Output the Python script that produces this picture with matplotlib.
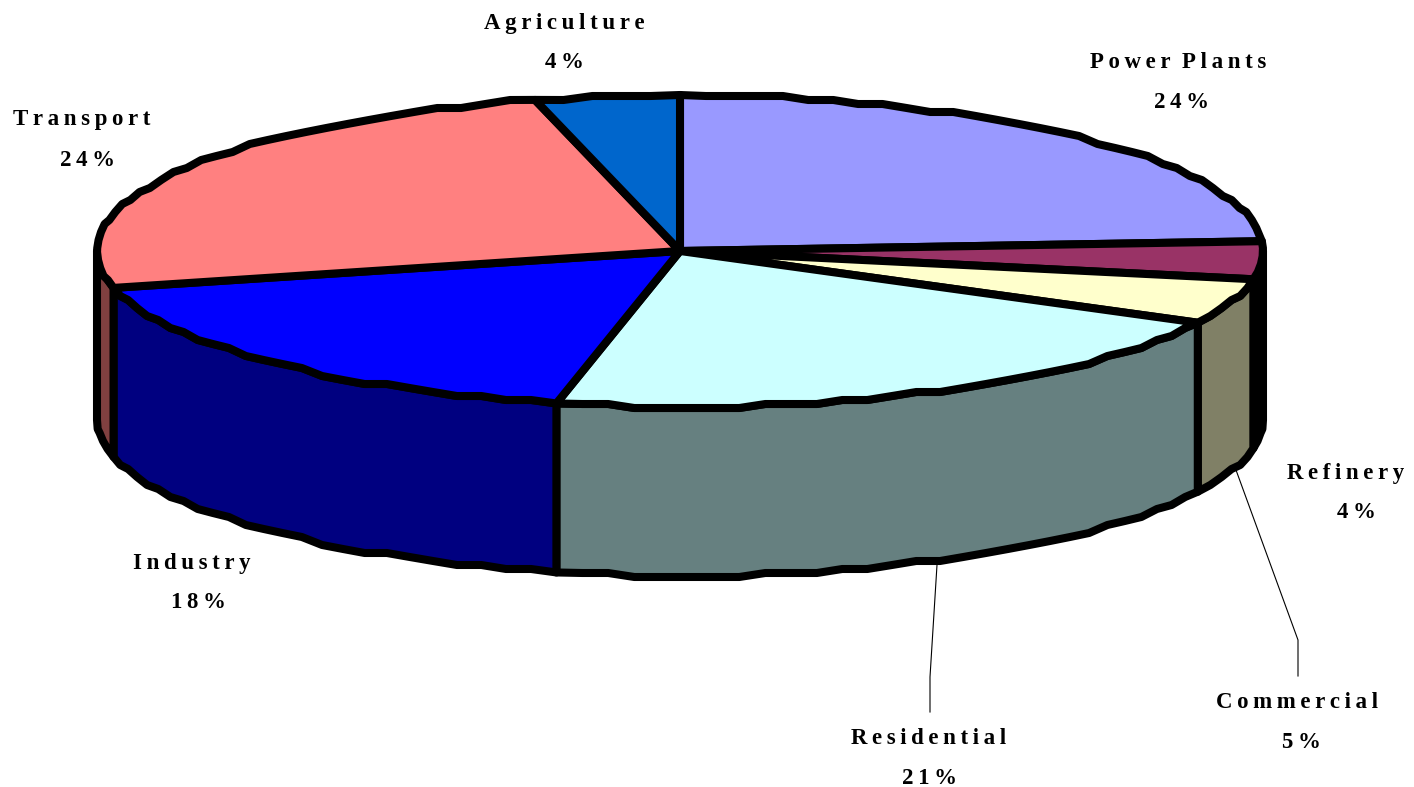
import numpy as np
import matplotlib
matplotlib.use('Agg')
import matplotlib.pyplot as plt
from matplotlib.patches import Polygon

# values (slice sizes), clockwise from the top
categories = ['Power Plants', 'Refinery', 'Commercial', 'Residential', 'Industry', 'Transport', 'Agriculture']
values = [24.0, 3.9, 4.7, 20.8, 17.8, 24.8, 4.0]
pct_labels = ['24%', '4%', '5%', '21%', '18%', '24%', '4%']
top_colors = ['#9999FF', '#993366', '#FFFFCC', '#CCFFFF', '#0000FF', '#FF8080', '#0066CC']
side_colors = ['#4D4D80', '#000000', '#808066', '#668080', '#000080', '#804040', '#003366']

# layout in pixels
cx, cy = 680, 251
rx, ry = 583, 156
depth = 169
lw = 5.8
label_pos = {
    'Power Plants': (1178, 63, 1182, 102),
    'Refinery': (1346, 473, 1356, 512),
    'Commercial': (1297, 703, 1301, 742),
    'Residential': (929, 739, 930, 778),
    'Industry': (192, 563, 198, 602),
    'Transport': (82, 119, 87, 160),
    'Agriculture': (564, 23, 564, 62),
}
leaders = [
    ([1236, 1298, 1298], [470, 640, 676]),
    ([937, 930, 930], [565, 677, 712]),
]


def rim(a0, a1, dy=0):
    # coarse outline, the y is snapped to get the stepped edge of the original
    n = max(2, int((a1 - a0) / 2.5) + 1)
    a = np.radians(np.linspace(a0, a1, n))
    x = cx + rx * np.sin(a)
    y = cy - ry * np.cos(a)
    y[1:-1] = np.round(y[1:-1] / 4) * 4
    return np.column_stack([x, y + dy])


def spaced(s):
    # the labels have wide letter spacing
    return '\u2002'.join('\u2009'.join(w) for w in s.split(' '))


fig = plt.figure(figsize=(14.14, 7.87), dpi=100)
ax = fig.add_axes([0, 0, 1, 1])
ax.set_xlim(0, 1414)
ax.set_ylim(787, 0)
ax.axis('off')

edges = np.concatenate([[0], np.cumsum(values)]) * 360 / sum(values)

# walls of the slices that face the viewer
for i in range(len(values)):
    a0, a1 = max(edges[i], 90), min(edges[i + 1], 270)
    if a1 <= a0:
        continue
    top = rim(a0, a1)
    bottom = rim(a0, a1, depth)[::-1]
    ax.add_patch(Polygon(np.vstack([top, bottom]), closed=True, facecolor=side_colors[i],
                         edgecolor='black', linewidth=lw, joinstyle='round', zorder=2))

# lid
for i in range(len(values)):
    pts = np.vstack([[[cx, cy]], rim(edges[i], edges[i + 1])])
    ax.add_patch(Polygon(pts, closed=True, facecolor=top_colors[i], edgecolor='black',
                         linewidth=lw, joinstyle='round', zorder=3))

for xs, ys in leaders:
    ax.plot(xs, ys, color='black', lw=0.8, zorder=1)

for name, pct in zip(categories, pct_labels):
    x1, y1, x2, y2 = label_pos[name]
    ax.text(x1, y1, spaced(name), ha='center', va='center', fontsize=16.5, fontweight='bold',
            family=['Liberation Serif', 'DejaVu Serif'])
    ax.text(x2, y2, spaced(pct), ha='center', va='center', fontsize=16.5, fontweight='bold',
            family=['Liberation Serif', 'DejaVu Serif'])

plt.savefig('out.png', dpi=100)
